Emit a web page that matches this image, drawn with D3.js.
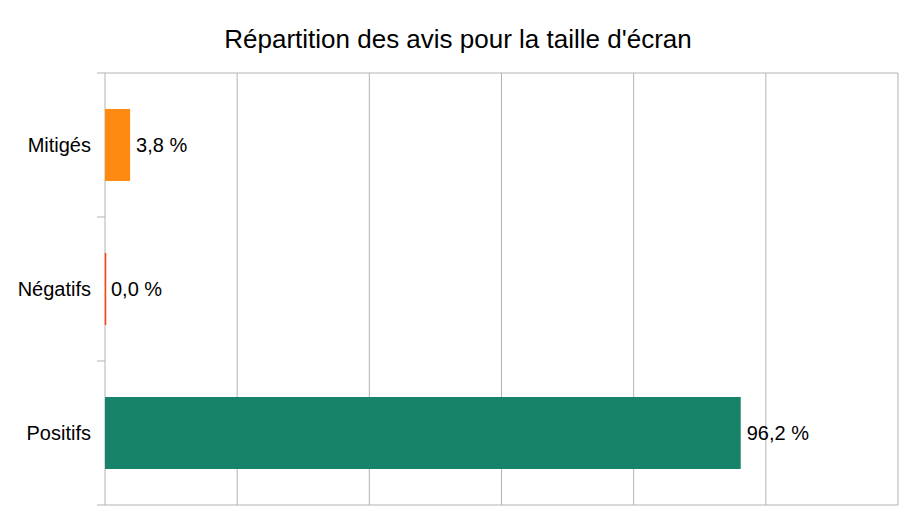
<!DOCTYPE html>
<html>
<head>
<meta charset="utf-8">
<script src="https://cdn.jsdelivr.net/npm/d3@7"></script>
<style>
  body { margin: 0; background: #fff; }
  svg { font-family: "Liberation Sans", Arial, sans-serif; }
</style>
</head>
<body>
<svg width="917" height="516"></svg>
<script>
// données du graphique
const categories = ["Mitigés", "Négatifs", "Positifs"];
const values = [3.8, 0.0, 96.2];
const colors = ["#ff8a12", "#ff420e", "#17846a"];
const xTicks = [0, 20, 40, 60, 80, 100, 120];

const svg = d3.select("svg");
const margin = { top: 73, right: 19, bottom: 11, left: 105 };
const width = 917 - margin.left - margin.right;
const height = 516 - margin.top - margin.bottom;

const x = d3.scaleLinear().domain([0, 120]).range([0, width]);
const y = d3.scaleBand().domain(categories).range([0, height]).paddingInner(0.5).paddingOuter(0.25);
const yStep = d3.scaleBand().domain(categories).range([0, height]);

// titre
svg.append("text")
  .attr("x", 458)
  .attr("y", 48)
  .attr("text-anchor", "middle")
  .attr("font-size", 26)
  .attr("fill", "#000")
  .text("Répartition des avis pour la taille d'écran");

const g = svg.append("g").attr("transform", `translate(${margin.left},${margin.top})`);

// grille verticale
g.selectAll(".grid")
  .data(xTicks)
  .enter()
  .append("line")
  .attr("x1", d => x(d))
  .attr("x2", d => x(d))
  .attr("y1", 0)
  .attr("y2", height)
  .attr("stroke", "#b3b3b3");

// lignes horizontales (bord et graduations de l'axe)
const bounds = categories.map(c => yStep(c)).concat([height]);
g.selectAll(".tick-line")
  .data(bounds)
  .enter()
  .append("line")
  .attr("x1", -8)
  .attr("x2", (d, i) => (i === 0 || i === bounds.length - 1) ? width : 0)
  .attr("y1", d => d)
  .attr("y2", d => d)
  .attr("stroke", "#b3b3b3");

// barres
const data = categories.map((c, i) => ({ cat: c, value: values[i], color: colors[i] }));

g.selectAll(".bar")
  .data(data)
  .enter()
  .append("rect")
  .attr("x", 0)
  .attr("y", d => y(d.cat))
  .attr("width", d => x(d.value))
  .attr("height", y.bandwidth())
  .attr("fill", d => d.color);

// barre à zéro : simple trait
g.selectAll(".zero-bar")
  .data(data.filter(d => d.value === 0))
  .enter()
  .append("line")
  .attr("x1", 0.5)
  .attr("x2", 0.5)
  .attr("y1", d => y(d.cat))
  .attr("y2", d => y(d.cat) + y.bandwidth())
  .attr("stroke", d => d.color)
  .attr("stroke-width", 1.5);

// étiquettes des valeurs
g.selectAll(".value-label")
  .data(data)
  .enter()
  .append("text")
  .attr("x", d => x(d.value) + 6)
  .attr("y", d => y(d.cat) + y.bandwidth() / 2)
  .attr("dy", "0.35em")
  .attr("font-size", 20)
  .attr("fill", "#000")
  .text(d => d.value.toFixed(1).replace(".", ",") + " %");

// étiquettes des catégories
g.selectAll(".cat-label")
  .data(categories)
  .enter()
  .append("text")
  .attr("x", -14)
  .attr("y", d => y(d) + y.bandwidth() / 2)
  .attr("dy", "0.35em")
  .attr("text-anchor", "end")
  .attr("font-size", 20)
  .attr("fill", "#000")
  .text(d => d);
</script>
</body>
</html>
